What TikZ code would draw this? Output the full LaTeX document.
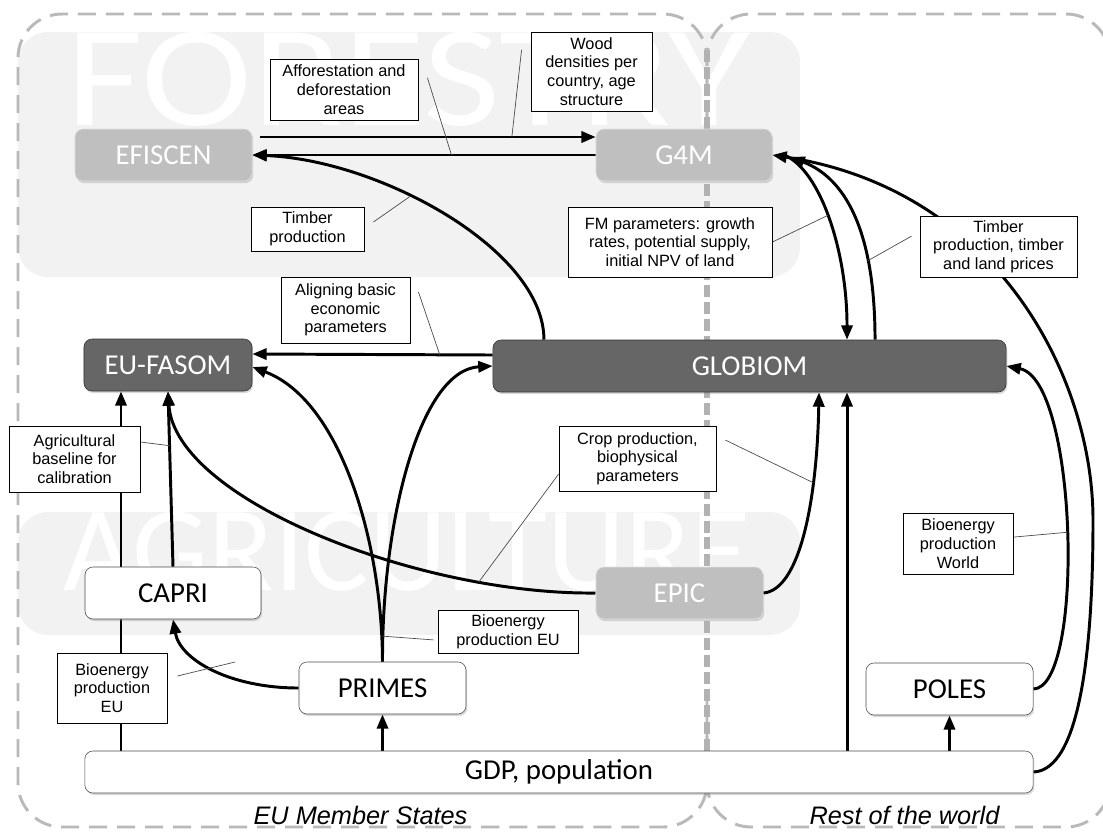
\documentclass[tikz,border=0pt]{standalone}
\usepackage{fontspec}
\setmainfont{Liberation Sans}
\newfontfamily\calibri{Carlito}
\usetikzlibrary{arrows.meta, shadows}
\pgfdeclarelayer{bg}
\pgfdeclarelayer{links}
\pgfsetlayers{bg,links,main}
\newcommand{\notefont}{\fontsize{11.6}{13.3}\selectfont}
\newcommand{\modelfont}{\calibri\fontsize{20.5}{24}\selectfont}
\tikzstyle{model} = [rectangle, rounded corners=0.2cm, minimum height=1.3cm, text centered, font=\modelfont, drop shadow={opacity=0.3, shadow xshift=0.03cm, shadow yshift=-0.05cm}]
\tikzstyle{forest} = [model, draw=black!12, fill=black!25, text=white]
\tikzstyle{core} = [model, draw=black!80, fill=black!60, text=white]
\tikzstyle{input} = [model, draw=black!70, fill=white]
\tikzstyle{note} = [rectangle, draw=black, line width=0.6pt, fill=white, align=center, font=\notefont, inner sep=1pt]
\tikzstyle{arrow} = [line width=2.1pt, -{Triangle[length=0.36cm, width=0.28cm]}]
\tikzstyle{pointer} = [line width=0.5pt, black!70]
\tikzstyle{region} = [gray!55, line width=2.1pt, dash pattern=on 0.45cm off 0.25cm, rounded corners=1.1cm]
\tikzstyle{bgword} = [text=white, inner sep=0pt, anchor=base west]
\tikzstyle{side} = [font=\itshape\fontsize{18}{18}\selectfont, anchor=base]

\begin{document}
\begin{tikzpicture}[x=0.025cm, y=-0.025cm]
    \clip (0,0) rectangle (1103,831);

    \node (efiscen) [forest, minimum width=4.425cm] at (163.5,155) {EFISCEN};
    \node (g4m) [forest, minimum width=4.4cm] at (684,155) {G4M};
    \node (efasom) [core, minimum width=4.2cm] at (168,365) {EU-FASOM};
    \node (globiom) [core, minimum width=12.825cm] at (749.5,366) {GLOBIOM};
    \node (capri) [input, minimum width=4.4cm] at (173,593) {CAPRI};
    \node (epic) [forest, minimum width=4.175cm] at (679.5,593) {EPIC};
    \node (primes) [input, minimum width=4.175cm] at (382.5,688) {PRIMES};
    \node (poles) [input, minimum width=4.175cm] at (949.5,689) {POLES};
    \node (gdp) [input, minimum width=23.7cm, minimum height=1.05cm] at (559,772) {GDP, population};

    \node (eums) [side] at (360.5,824) {EU Member States};
    \node (row) [side] at (904.5,824) {Rest of the world};

    \node (aff) [note, minimum width=3.7cm, minimum height=1.525cm] at (344,89.5) {Afforestation and\\deforestation\\areas};
    \node (wood) [note, minimum width=3.025cm, minimum height=1.975cm] at (591.5,71.5) {Wood\\densities per\\country, age\\structure};
    \node (timb1) [note, minimum width=2.825cm, minimum height=1.1cm] at (307.5,229) {Timber\\production};
    \node (fmpar) [note, minimum width=5.1cm, minimum height=1.75cm] at (670,242) {FM parameters: growth\\rates, potential supply,\\initial NPV of land};
    \node (timb2) [note, minimum width=3.925cm, minimum height=1.525cm] at (998.5,246.5) {Timber\\production, timber\\and land prices};
    \node (align) [note, minimum width=3.225cm, minimum height=1.65cm] at (345.5,310) {Aligning basic\\economic\\parameters};
    \node (agri) [note, minimum width=3.275cm, minimum height=1.65cm] at (74.5,459) {Agricultural\\baseline for\\calibration};
    \node (crop) [note, minimum width=3.925cm, minimum height=1.625cm] at (637.5,458.5) {Crop production,\\biophysical\\parameters};
    \node (bioW) [note, minimum width=2.75cm, minimum height=1.525cm] at (958,543.5) {Bioenergy\\production\\World};
    \node (bioEU1) [note, minimum width=3.5cm, minimum height=1.075cm] at (508,631.5) {Bioenergy\\production EU};
    \node (bioEU2) [note, minimum width=2.75cm, minimum height=1.75cm] at (112,688) {Bioenergy\\production\\EU};

    \begin{pgfonlayer}{bg}
        \begin{scope}
            \clip [rounded corners=0.75cm] (18,32) rectangle (800,277);
            \fill [black!5] (18,32) rectangle (800,277);
            \node (forestry) [bgword, font=\calibri\fontsize{119}{119}\selectfont] at (66,125) {\scalebox{1}[0.86]{FORESTRY}};
        \end{scope}
        \begin{scope}
            \clip [rounded corners=0.75cm] (18,512) rectangle (800,635);
            \fill [black!5] (18,512) rectangle (800,635);
            \node (agriculture) [bgword, font=\calibri\fontsize{86}{86}\selectfont] at (63,590) {AGRICULTURE};
        \end{scope}
        \draw [region] (707,150) -- (707,14) -- (18,14) -- (18,827) -- (707,827) -- (707,700);
        \draw [region] (707,150) -- (707,14) -- (1110,14) -- (1110,827) -- (707,827) -- (707,700);
        \draw [gray!60, line width=0.15cm, dash pattern=on 0.3cm off 0.12cm] (707,50) -- (707,792);
    \end{pgfonlayer}

    \begin{pgfonlayer}{links}
        \draw [arrow] ([xshift=0.2cm, yshift=0.45cm]efiscen.east) -- ([yshift=0.45cm]g4m.west) coordinate[pos=0.75] (onWood);
        \draw [arrow] (g4m.west) -- (efiscen.east) coordinate[pos=0.42] (onAff);
        \draw [arrow] ([xshift=-5.1375cm]globiom.north) .. controls (544,250) and (380,160) .. (efiscen.east) coordinate[pos=0.6] (onTimb);
        \draw [arrow] ([xshift=0.3cm]g4m.east) .. controls (820,170) and (847,250) .. ([xshift=2.4375cm]globiom.north) coordinate[pos=0.48] (onFM);
        \draw [arrow] ([xshift=3.1375cm]globiom.north) .. controls (875,240) and (850,180) .. ([xshift=0.45cm, yshift=-0.05cm]g4m.east) coordinate[pos=0.3] (onTimbW);
        \draw [arrow] (gdp.east) .. controls (1080,770) and (1093,650) .. (1093,520) .. controls (1093,380) and (1000,190) .. (g4m.east);
        \draw [arrow] ([yshift=0.275cm]globiom.west) -- ([yshift=0.275cm]efasom.east) coordinate[pos=0.22] (onAlign);
        \draw [arrow] (primes.north) .. controls (382,540) and (340,400) .. ([yshift=-0.05cm]efasom.east);
        \draw [arrow] (primes.north) .. controls (382,520) and (420,370) .. (globiom.west) coordinate[pos=0.06] (onBioEU);
        \draw [arrow] (primes.west) .. controls (230,688) and (180,660) .. (capri.south);
        \draw [arrow] ([xshift=-1.175cm]efasom.south |- gdp.north) -- ([xshift=-1.175cm]efasom.south);
        \draw [arrow] (capri.north) -- (efasom.south) coordinate[pos=0.69] (onAgri);
        \draw [arrow] (epic.west) .. controls (420,595) and (175,500) .. (efasom.south) coordinate[pos=0.21] (onCropL);
        \draw [arrow] (epic.east) .. controls (800,590) and (817,500) .. ([xshift=1.7375cm]globiom.south) coordinate[pos=0.7] (onCrop);
        \draw [arrow] ([xshift=2.4375cm]globiom.south |- gdp.north) -- ([xshift=2.4375cm]globiom.south);
        \draw [arrow] (poles.east) .. controls (1085,688) and (1078,380) .. (globiom.east) coordinate[pos=0.5] (onBioW);
        \foreach \m in {primes, poles} {
            \draw [arrow] (gdp.north -| \m) -- (\m.south);
        }

        \coordinate (offCapri) at (235,662);
        \draw [pointer] ([xshift=0.225cm, yshift=0.29cm]aff.east) -- (onAff);
        \draw [pointer] ([xshift=-0.225cm, yshift=0.54cm]wood.west) -- (onWood);
        \draw [pointer] ([xshift=0.225cm, yshift=0.175cm]timb1.east) -- (onTimb);
        \draw [pointer] (fmpar.east) -- (onFM);
        \draw [pointer] ([xshift=-0.2cm, yshift=0.26cm]timb2.west) -- (onTimbW);
        \draw [pointer] ([xshift=0.2cm, yshift=0.45cm]align.east) -- (onAlign);
        \draw [pointer] ([yshift=0.425cm]agri.east) -- (onAgri);
        \draw [pointer] ([xshift=0.225cm, yshift=0.46cm]crop.east) -- (onCrop);
        \draw [pointer] ([yshift=-0.39cm]crop.west) -- (onCropL);
        \draw [pointer] ([yshift=0.16cm]bioW.east) -- (onBioW);
        \draw [pointer] ([xshift=-0.1cm, yshift=-0.21cm]bioEU1.west) -- (onBioEU);
        \draw [pointer] ([xshift=0.25cm, yshift=0.3cm]bioEU2.east) -- (offCapri);
    \end{pgfonlayer}
\end{tikzpicture}
\end{document}
